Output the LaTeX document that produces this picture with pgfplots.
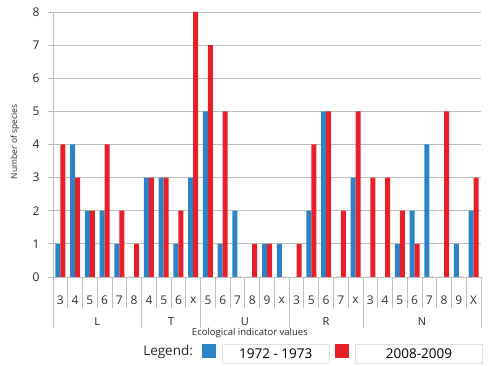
\documentclass[border=0pt]{standalone}
\usepackage{pgfplots}
\pgfplotsset{compat=1.18}
\usepackage{fontspec}
\setmainfont{Open Sans}
\usetikzlibrary{calc}
\definecolor{barblue}{RGB}{44,132,200}
\definecolor{barred}{RGB}{232,30,40}
\definecolor{sepgray}{RGB}{190,190,190}
\begin{document}
\begin{tikzpicture}
\begin{axis}[
  name=ax,
  scale only axis,
  width=428pt, height=265pt,
  ybar=0pt, bar width=5pt,
  xmin=-0.5, xmax=28.5,
  ymin=0, ymax=8,
  enlarge y limits=false,
  clip=false,
  axis lines*=left,
  axis line style={sepgray, line width=0.8pt},
  ymajorgrids,
  grid style={sepgray, line width=0.8pt},
  ytick={0,1,...,8},
  ytick style={sepgray, line width=0.8pt},
  tick align=outside,
  major tick length=5pt,
  xtick={0,1,...,28},
  xtick style={draw=none},
  xticklabels={3,4,5,6,7,8,4,5,6,x,5,6,7,8,9,x,3,5,6,7,x,3,4,5,6,7,8,9,X},
  xticklabel style={font=\fontsize{12}{14}\selectfont, color=black!80, anchor=center, yshift=-18pt},
  yticklabel style={font=\fontsize{12}{14}\selectfont, color=black!85, xshift=-5pt},
  /pgf/number format/assume math mode=true,
  ylabel={Number of species},
  ylabel style={font=\fontsize{8.5}{10}\selectfont, color=black!85, at={(axis description cs:-0.089,0.51)}, anchor=center},
  xlabel={Ecological indicator values},
  xlabel style={font=\fontsize{9.5}{11}\selectfont, color=black!85, at={(axis description cs:0.46,0)}, anchor=center, yshift=-56pt},
  legend columns=2,
  legend style={draw=none, fill=none, at={(axis description cs:0.348,-0.283)}, anchor=west,
    font=\fontsize{13.5}{15}\selectfont, inner sep=0pt,
    /tikz/every even column/.append style={column sep=4pt},
    /tikz/every odd column/.append style={column sep=4pt}},
  legend image code/.code={\fill[#1] (0pt,-6pt) rectangle (14pt,8pt);},
]
\addplot[fill=barblue, draw=none] coordinates {
 (0,1) (1,4) (2,2) (3,2) (4,1) (5,0)
 (6,3) (7,3) (8,1) (9,3)
 (10,5) (11,1) (12,2) (13,0) (14,1) (15,1)
 (16,0) (17,2) (18,5) (19,0) (20,3)
 (21,0) (22,0) (23,1) (24,2) (25,4) (26,0) (27,1) (28,2)};
\addlegendentry{\setlength{\fboxrule}{0.6pt}\setlength{\fboxsep}{4pt}\fcolorbox{black!12}{white}{\makebox[98pt]{1972 - 1973}}}
\addplot[fill=barred, draw=none] coordinates {
 (0,4) (1,3) (2,2) (3,4) (4,2) (5,1)
 (6,3) (7,3) (8,2) (9,8)
 (10,7) (11,5) (12,0) (13,1) (14,1) (15,0)
 (16,1) (17,4) (18,5) (19,2) (20,5)
 (21,3) (22,3) (23,2) (24,1) (25,0) (26,5) (27,0) (28,3)};
\addlegendentry{\setlength{\fboxrule}{0.6pt}\setlength{\fboxsep}{4pt}\fcolorbox{black!12}{white}{\makebox[118pt]{2008-2009}}}
\pgfplotsinvokeforeach{0.5,1.5,2.5,3.5,4.5,6.5,7.5,8.5,10.5,11.5,12.5,13.5,14.5,16.5,17.5,18.5,19.5,21.5,22.5,23.5,24.5,25.5,26.5,27.5}{
  \draw[sepgray, line width=0.8pt] (axis cs:#1,0) -- ([yshift=-31pt]axis cs:#1,0);
}
\pgfplotsinvokeforeach{-0.5,5.5,9.5,15.5,20.5,28.5}{
  \draw[sepgray, line width=0.8pt] (axis cs:#1,0) -- ([yshift=-51pt]axis cs:#1,0);
}
\node[font=\fontsize{11}{13}\selectfont, color=black!85] at ([yshift=-45pt]axis cs:2.5,0) {L};
\node[font=\fontsize{11}{13}\selectfont, color=black!85] at ([yshift=-45pt]axis cs:7.5,0) {T};
\node[font=\fontsize{11}{13}\selectfont, color=black!85] at ([yshift=-45pt]axis cs:12.5,0) {U};
\node[font=\fontsize{11}{13}\selectfont, color=black!85] at ([yshift=-45pt]axis cs:18,0) {R};
\node[font=\fontsize{11}{13}\selectfont, color=black!85] at ([yshift=-45pt]axis cs:24.5,0) {N};
\node[font=\fontsize{13.5}{15}\selectfont, color=black!85, anchor=center] at ([yshift=-75pt]axis cs:7.3,0) {Legend:};
\end{axis}
\pgfresetboundingbox
\useasboundingbox ($(ax.south west)+(-53pt,-89pt)$) rectangle ($(ax.north east)+(9pt,12pt)$);
\end{tikzpicture}
\end{document}
